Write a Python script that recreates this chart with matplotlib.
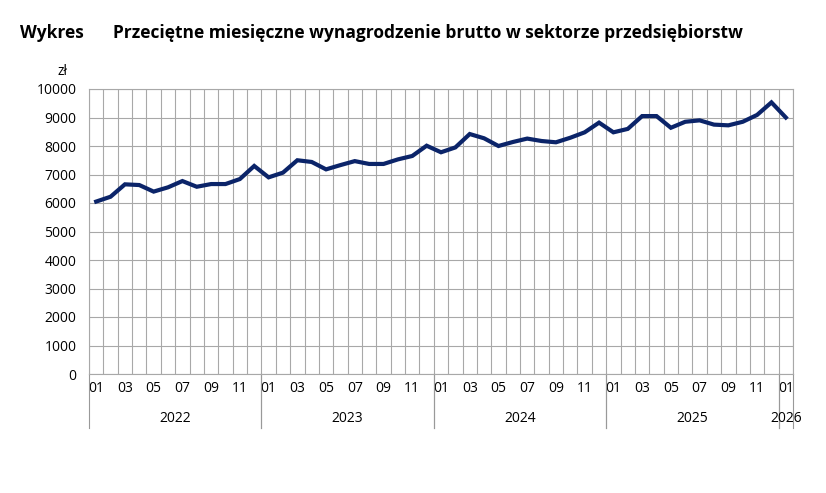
import numpy as np
import matplotlib
matplotlib.use("Agg")
import matplotlib.pyplot as plt

plt.rcParams['font.family'] = ['Open Sans', 'DejaVu Sans']

# miesięczne wynagrodzenie brutto, 2022-01 .. 2026-01
years = [2022, 2023, 2024, 2025, 2026]
wages = [
    6050, 6220, 6655, 6630, 6400, 6550, 6770, 6570, 6665, 6665, 6840, 7300,
    6900, 7065, 7500, 7440, 7180, 7330, 7470, 7370, 7370, 7530, 7650, 8010,
    7780, 7950, 8420, 8270, 8000, 8140, 8260, 8175, 8130, 8290, 8480, 8820,
    8480, 8600, 9050, 9050, 8640, 8850, 8900, 8750, 8725, 8850, 9090, 9530,
    9000,
]
y_ticks = list(range(0, 10001, 1000))

n = len(wages)
x = np.arange(n)

fig = plt.figure(figsize=(8.26, 4.93), dpi=100)
ax = fig.add_axes([89 / 826, 1 - 374 / 493, (793 - 89) / 826, (374 - 89) / 493])

ax.plot(x, wages, color="#0b2469", lw=3.0, solid_joinstyle="miter", zorder=3)

ax.set_xlim(-0.5, n - 0.5)
ax.set_ylim(0, 10000)
ax.set_yticks(y_ticks)
ax.tick_params(axis="y", length=0, labelsize=10, pad=9)

# vertical grid at every month boundary
grid_c = "#a8a8a8"
for b in np.arange(-0.5, n, 1):
    ax.axvline(b, color=grid_c, lw=0.8, zorder=1)
for yv in y_ticks:
    ax.axhline(yv, color=grid_c, lw=0.8, zorder=1)
for s in ax.spines.values():
    s.set_color(grid_c)
    s.set_linewidth(0.8)

# month tick labels
pos, labs = [], []
for yi, yr in enumerate(years):
    for m in range(12):
        idx = yi * 12 + m
        if idx >= n:
            break
        if m % 2 == 0:
            pos.append(idx)
            labs.append(f"{m + 1:02d}")
ax.set_xticks(pos)
ax.set_xticklabels(labs)
ax.tick_params(axis="x", length=0, labelsize=10, pad=5)

# year separators and labels below the axis
trans = ax.get_xaxis_transform()
for yi, yr in enumerate(years):
    start = yi * 12 - 0.5
    end = min(start + 12, n - 0.5)
    for b in (start, end):
        ax.plot([b, b], [0, -0.19], transform=trans, color="#999999",
                lw=0.8, clip_on=False)
    ax.text((start + end) / 2, -0.155, str(yr), transform=trans,
            ha="center", va="center", fontsize=10)

ax.text(-0.037, 1.06, "zł", transform=ax.transAxes, ha="center",
        va="center", fontsize=10)

fig.text(20 / 826, 1 - 33 / 493, "Wykres", fontsize=12.5, fontweight="bold",
         va="center", ha="left")
fig.text(113 / 826, 1 - 33 / 493,
         "Przeciętne miesięczne wynagrodzenie brutto w sektorze przedsiębiorstw",
         fontsize=12.5, fontweight="bold", va="center", ha="left")

fig.savefig("out.png", dpi=100)
